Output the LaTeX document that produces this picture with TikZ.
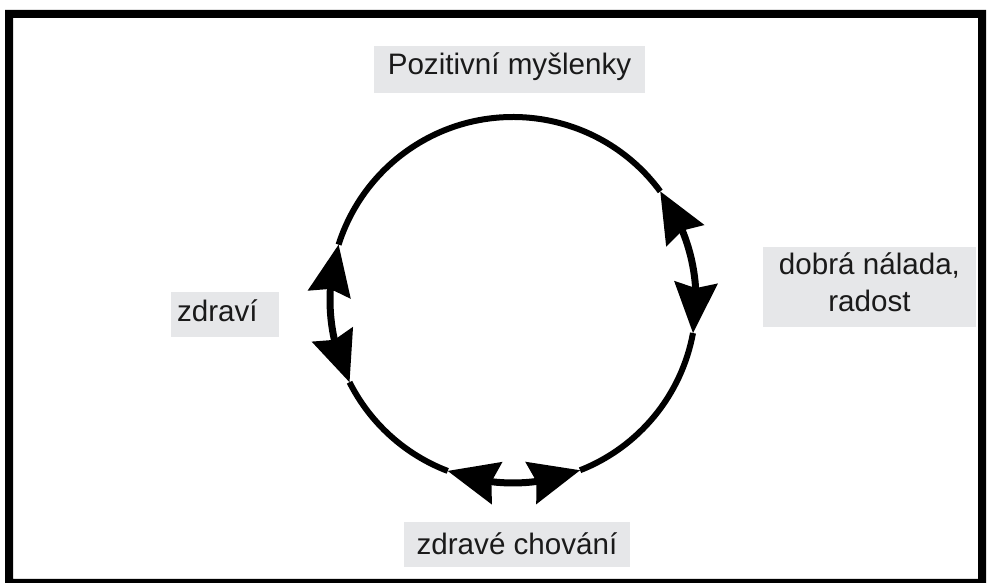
\documentclass[tikz,border=0pt]{standalone}
\usepackage{fontspec}
\setmainfont{Liberation Sans}
\usetikzlibrary{arrows.meta,bending,calc}
\definecolor{boxgray}{HTML}{E6E7E9}
\definecolor{inkblack}{HTML}{1A1A1A}
\begin{document}
\begin{tikzpicture}[x=1pt,y=1pt,
  lbl/.style={fill=boxgray, inner xsep=0pt, inner ysep=0pt, text=inkblack,
    font=\fontsize{29.6}{37}\selectfont},
  mainarc/.style={line width=6pt},
  bigtip/.tip={Stealth[length=51pt,width=44pt,inset=6pt,line width=0pt,flex]},
  dblarrow/.style={line width=7pt, bigtip-bigtip}
]
\useasboundingbox (0,0) rectangle (988,583);
% frame
\fill[black, even odd rule] (5,0) rectangle (986,573) (13,4) rectangle (978,565);

% circle geometry
\coordinate (C) at (513,283);
\def\R{183}
\coordinate (a1) at ($(C)+(36.4:\R)$);
\coordinate (a2) at ($(C)+(-10.4:\R)$);
\coordinate (a3) at ($(C)+(-68.5:\R)$);
\coordinate (a4) at ($(C)+(-110.9:\R)$);
\coordinate (a5) at ($(C)+(-153.3:\R)$);
\coordinate (a6) at ($(C)+(162.4:\R)$);

% main arcs
\draw[mainarc] (a1) arc[start angle=36.4, end angle=162.4, radius=\R];
\draw[mainarc] (a2) arc[start angle=-10.4, end angle=-68.5, radius=\R];
\draw[mainarc] (a4) arc[start angle=-110.9, end angle=-153.3, radius=\R];

% double arrows
\draw[dblarrow] (a1) arc[start angle=36.4, end angle=-10.4, radius=\R];
\draw[dblarrow] (a3) arc[start angle=-68.5, end angle=-110.9, radius=\R];
\draw[dblarrow] (a5) arc[start angle=-153.3, end angle=-197.6, radius=\R];

% labels
\node[lbl, minimum width=271pt, text height=29pt, text depth=18pt] (pos) at (509.5,513.5) {Pozitivní myšlenky};
\node[lbl, minimum width=226pt, text height=33pt, text depth=12pt] (chov) at (517,38.5) {zdravé chování};
\node[lbl, minimum width=213pt, text height=65pt, text depth=15pt, align=center] (nal) at (869.5,296) {dobrá nálada,\\radost};
\node[lbl, text width=96pt, inner xsep=6pt, text height=30pt, text depth=15pt, align=left] (zdr) at (225,268.5) {zdraví};
\end{tikzpicture}
\end{document}
